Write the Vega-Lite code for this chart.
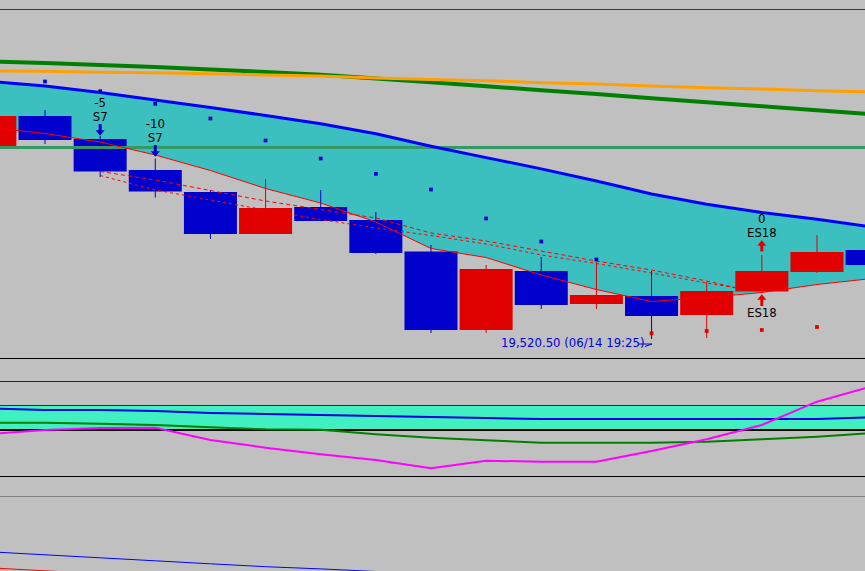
{
  "$schema": "https://vega.github.io/schema/vega-lite/v6.json",
  "background": "#c0c0c0",
  "padding": 0,
  "spacing": 0,
  "config": {"view": {"stroke": null}, "concat": {"spacing": 0}, "scale": {"continuousPadding": 0}},
  "resolve": {"scale": {"x": "independent", "y": "independent", "color": "independent"}},
  "datasets": {
    "candles": [
      {"i": -1, "o": 19617, "c": 19632, "h": 19634, "l": 19615, "dir": "up"},
      {"i": 0, "o": 19632, "c": 19620, "h": 19635, "l": 19618, "dir": "down"},
      {"i": 1, "o": 19620.5, "c": 19604.25, "h": 19622, "l": 19601.5, "dir": "down"},
      {"i": 2, "o": 19605, "c": 19594.25, "h": 19610.75, "l": 19591.25, "dir": "down"},
      {"i": 3, "o": 19594, "c": 19573, "h": 19595, "l": 19570.5, "dir": "down"},
      {"i": 4, "o": 19573, "c": 19586, "h": 19600.5, "l": 19573, "dir": "up"},
      {"i": 5, "o": 19586.5, "c": 19579.5, "h": 19595, "l": 19579.5, "dir": "down"},
      {"i": 6, "o": 19580, "c": 19563.5, "h": 19584, "l": 19563, "dir": "down"},
      {"i": 7, "o": 19564.25, "c": 19525, "h": 19567.5, "l": 19523.5, "dir": "down"},
      {"i": 8, "o": 19525, "c": 19555.5, "h": 19557.5, "l": 19523.5, "dir": "up"},
      {"i": 9, "o": 19554.5, "c": 19537.5, "h": 19561.5, "l": 19535.5, "dir": "down"},
      {"i": 10, "o": 19538, "c": 19542.5, "h": 19559, "l": 19535.5, "dir": "up"},
      {"i": 11, "o": 19542, "c": 19532, "h": 19554.5, "l": 19520.5, "dir": "down"},
      {"i": 12, "o": 19532.5, "c": 19544.5, "h": 19549, "l": 19521, "dir": "up"},
      {"i": 13, "o": 19544.25, "c": 19554.5, "h": 19562.5, "l": 19544.25, "dir": "up"},
      {"i": 14, "o": 19554, "c": 19564, "h": 19572.5, "l": 19553.5, "dir": "up"},
      {"i": 15, "o": 19565, "c": 19557.5, "h": 19567.5, "l": 19556.5, "dir": "down"}
    ],
    "lines": [
      {"i": -1, "green": 19659.2, "orange": 19654.5, "upper": 19649.25, "lower": 19626.25},
      {"i": 0, "green": 19658.5, "orange": 19654.35, "upper": 19647, "lower": 19623.25},
      {"i": 1, "green": 19657.5, "orange": 19653.9, "upper": 19643.75, "lower": 19619},
      {"i": 2, "green": 19656.5, "orange": 19653.6, "upper": 19640, "lower": 19612.5},
      {"i": 3, "green": 19655.25, "orange": 19653.1, "upper": 19636.25, "lower": 19604.75},
      {"i": 4, "green": 19654, "orange": 19652.5, "upper": 19632.25, "lower": 19595.75},
      {"i": 5, "green": 19652.6, "orange": 19652, "upper": 19628.15, "lower": 19588.5},
      {"i": 6, "green": 19650.75, "orange": 19651, "upper": 19623.1, "lower": 19579},
      {"i": 7, "green": 19648.9, "orange": 19650.25, "upper": 19616.85, "lower": 19565.75},
      {"i": 8, "green": 19646.85, "orange": 19649.6, "upper": 19611.2, "lower": 19561.25},
      {"i": 9, "green": 19644.9, "orange": 19648.65, "upper": 19605.55, "lower": 19552.5},
      {"i": 10, "green": 19643, "orange": 19648, "upper": 19599.5, "lower": 19545.25},
      {"i": 11, "green": 19640.9, "orange": 19647, "upper": 19593, "lower": 19539.25},
      {"i": 12, "green": 19638.9, "orange": 19646.1, "upper": 19587.85, "lower": 19541.25},
      {"i": 13, "green": 19636.9, "orange": 19645.5, "upper": 19583.75, "lower": 19543.75},
      {"i": 14, "green": 19634.9, "orange": 19644.65, "upper": 19580.4, "lower": 19547.75},
      {"i": 15, "green": 19632.9, "orange": 19644, "upper": 19576.5, "lower": 19550.75}
    ],
    "dashed": [
      {"i": 1, "d1": 19604.25, "d2": 19602.25},
      {"i": 2, "d1": 19600, "d2": 19595},
      {"i": 3, "d1": 19594.75, "d2": 19590},
      {"i": 4, "d1": 19589.5, "d2": 19585},
      {"i": 5, "d1": 19585.25, "d2": 19580.25},
      {"i": 6, "d1": 19581, "d2": 19576},
      {"i": 7, "d1": 19573.5, "d2": 19572.25},
      {"i": 8, "d1": 19569.5, "d2": 19568},
      {"i": 9, "d1": 19564.5, "d2": 19562.5},
      {"i": 10, "d1": 19559.5, "d2": 19558.25},
      {"i": 11, "d1": 19555, "d2": 19553.5},
      {"i": 12, "d1": 19549.5, "d2": 19548.5},
      {"i": 12.55, "d1": 19546, "d2": 19546}
    ],
    "sar": [
      {"i": 0, "p": 19649.25, "side": "down"},
      {"i": 1, "p": 19644.4, "side": "down"},
      {"i": 2, "p": 19638.1, "side": "down"},
      {"i": 3, "p": 19630.75, "side": "down"},
      {"i": 4, "p": 19619.75, "side": "down"},
      {"i": 5, "p": 19610.75, "side": "down"},
      {"i": 6, "p": 19603.1, "side": "down"},
      {"i": 7, "p": 19595.25, "side": "down"},
      {"i": 8, "p": 19580.75, "side": "down"},
      {"i": 9, "p": 19569.25, "side": "down"},
      {"i": 10, "p": 19560.25, "side": "down"},
      {"i": 11, "p": 19523.35, "side": "up"},
      {"i": 12, "p": 19524.5, "side": "up"},
      {"i": 13, "p": 19525, "side": "up"},
      {"i": 14, "p": 19526.5, "side": "up"}
    ],
    "notes": [
      {"i": 1, "p": 19638.5, "t": "-5"},
      {"i": 1, "p": 19631.5, "t": "S7"},
      {"i": 2, "p": 19628, "t": "-10"},
      {"i": 2, "p": 19621, "t": "S7"},
      {"i": 13, "p": 19580.75, "t": "0"},
      {"i": 13, "p": 19573.75, "t": "ES18"},
      {"i": 13, "p": 19533.6, "t": "ES18"}
    ],
    "arrows": [
      {"i": 1, "s1": 19628, "s2": 19624.5, "hp": 19623.5, "dir": "down"},
      {"i": 2, "s1": 19617.5, "s2": 19614, "hp": 19613, "dir": "down"},
      {"i": 13, "s1": 19567.5, "s2": 19564.25, "hp": 19568.5, "dir": "up"},
      {"i": 13, "s1": 19540.5, "s2": 19537, "hp": 19541.5, "dir": "up"}
    ],
    "low": [
      {"i": 8.27, "p": 19518.5, "t": "19,520.50 (06/14 19:25)", "x1": 10.754, "x2": 11.008, "y1": 19518, "xa": 10.88, "ya": 19516.75}
    ],
    "levels": [
      {"v": 19685.25, "kind": "frame"},
      {"v": 19616.25, "kind": "ma"}
    ],
    "ind": [
      {"i": -1, "blue": 21.6, "green": 7.3, "mag": -4},
      {"i": 0, "blue": 20, "green": 7.3, "mag": 0},
      {"i": 1, "blue": 20, "green": 6.3, "mag": 2},
      {"i": 2, "blue": 19, "green": 5, "mag": 2.3},
      {"i": 3, "blue": 17, "green": 2.7, "mag": -10},
      {"i": 4, "blue": 16, "green": 0.7, "mag": -17.7},
      {"i": 5, "blue": 15, "green": 0.3, "mag": -24.3},
      {"i": 6, "blue": 14, "green": -4.3, "mag": -30},
      {"i": 7, "blue": 13, "green": -7.7, "mag": -38.3},
      {"i": 8, "blue": 12, "green": -10.3, "mag": -30.7},
      {"i": 9, "blue": 11, "green": -12.7, "mag": -31.7},
      {"i": 10, "blue": 11, "green": -12.7, "mag": -31.7},
      {"i": 11, "blue": 11, "green": -12.7, "mag": -21},
      {"i": 12, "blue": 11, "green": -11.7, "mag": -9.3},
      {"i": 13, "blue": 11, "green": -9.3, "mag": 5},
      {"i": 14, "blue": 11, "green": -6.7, "mag": 28.3},
      {"i": 15, "blue": 12.8, "green": -3, "mag": 43.7}
    ],
    "bot": [
      {"i": -1, "blue": 19.2, "red": 3.2},
      {"i": 0, "blue": 16.2, "red": 0.2},
      {"i": 1, "blue": 13.2, "red": -2.8},
      {"i": 2, "blue": 10.2},
      {"i": 3, "blue": 7.2},
      {"i": 4, "blue": 4.3},
      {"i": 5, "blue": 2.1},
      {"i": 6, "blue": -0.5},
      {"i": 7, "blue": -3}
    ]
  },
  "vconcat": [
    {
      "width": 865,
      "height": 358,
      "layer": [
        {
          "data": {"name": "lines"},
          "mark": {"type": "area", "color": "#3cbfbf", "opacity": 1, "clip": true},
          "encoding": {
            "x": {"field": "i", "type": "quantitative", "scale": {"domain": [-0.8161, 14.871], "nice": false, "zero": false, "padding": 0}, "axis": null},
            "y": {"field": "upper", "type": "quantitative", "scale": {"domain": [19511, 19690], "nice": false, "zero": false}, "axis": null},
            "y2": {"field": "lower"}
          }
        },
        {
          "data": {"name": "candles"},
          "mark": {"type": "rule", "strokeWidth": 1, "clip": true},
          "encoding": {
            "x": {"field": "i", "type": "quantitative"},
            "y": {"field": "l", "type": "quantitative"},
            "y2": {"field": "h"},
            "color": {"field": "dir", "type": "nominal", "scale": {"domain": ["up", "down"], "range": ["#e00000", "#0000cc"]}, "legend": null}
          }
        },
        {
          "data": {"name": "candles"},
          "mark": {"type": "bar", "size": 53, "orient": "vertical", "clip": true},
          "encoding": {
            "x": {"field": "i", "type": "quantitative"},
            "y": {"field": "o", "type": "quantitative"},
            "y2": {"field": "c"},
            "color": {"field": "dir", "type": "nominal", "legend": null}
          }
        },
        {
          "data": {"name": "levels"},
          "transform": [{"filter": "datum.kind == 'ma'"}],
          "mark": {"type": "rule", "color": "#339966", "strokeWidth": 3, "clip": true},
          "encoding": {"y": {"field": "v", "type": "quantitative"}}
        },
        {
          "data": {"name": "levels"},
          "transform": [{"filter": "datum.kind == 'frame'"}],
          "mark": {"type": "rule", "color": "#3a3a3a", "strokeWidth": 1, "clip": true},
          "encoding": {"y": {"field": "v", "type": "quantitative"}}
        },
        {
          "data": {"name": "lines"},
          "mark": {"type": "line", "color": "#008000", "strokeWidth": 4, "clip": true},
          "encoding": {"x": {"field": "i", "type": "quantitative"}, "y": {"field": "green", "type": "quantitative"}}
        },
        {
          "data": {"name": "lines"},
          "mark": {"type": "line", "color": "#ffa000", "strokeWidth": 3, "clip": true},
          "encoding": {"x": {"field": "i", "type": "quantitative"}, "y": {"field": "orange", "type": "quantitative"}}
        },
        {
          "data": {"name": "lines"},
          "mark": {"type": "line", "color": "#0000ff", "strokeWidth": 3, "clip": true},
          "encoding": {"x": {"field": "i", "type": "quantitative"}, "y": {"field": "upper", "type": "quantitative"}}
        },
        {
          "data": {"name": "lines"},
          "mark": {"type": "line", "color": "#ff0000", "strokeWidth": 1, "clip": true},
          "encoding": {"x": {"field": "i", "type": "quantitative"}, "y": {"field": "lower", "type": "quantitative"}}
        },
        {
          "data": {"name": "dashed"},
          "mark": {"type": "line", "color": "#ff0000", "strokeWidth": 1, "strokeDash": [4, 3], "clip": true},
          "encoding": {"x": {"field": "i", "type": "quantitative"}, "y": {"field": "d1", "type": "quantitative"}}
        },
        {
          "data": {"name": "dashed"},
          "mark": {"type": "line", "color": "#ff0000", "strokeWidth": 1, "strokeDash": [3, 3], "clip": true},
          "encoding": {"x": {"field": "i", "type": "quantitative"}, "y": {"field": "d2", "type": "quantitative"}}
        },
        {
          "data": {"name": "sar"},
          "mark": {"type": "point", "shape": "square", "filled": true, "size": 14, "opacity": 1},
          "encoding": {
            "x": {"field": "i", "type": "quantitative"},
            "y": {"field": "p", "type": "quantitative"},
            "color": {"field": "side", "type": "nominal", "legend": null}
          }
        },
        {
          "data": {"name": "notes"},
          "mark": {"type": "text", "font": "DejaVu Sans Condensed, Liberation Sans, sans-serif", "fontSize": 13, "color": "#000000", "align": "center", "baseline": "middle"},
          "encoding": {
            "x": {"field": "i", "type": "quantitative"},
            "y": {"field": "p", "type": "quantitative"},
            "text": {"field": "t"}
          }
        },
        {
          "data": {"name": "arrows"},
          "mark": {"type": "rule", "strokeWidth": 3},
          "encoding": {
            "x": {"field": "i", "type": "quantitative"},
            "y": {"field": "s1", "type": "quantitative"},
            "y2": {"field": "s2"},
            "color": {"field": "dir", "type": "nominal", "legend": null}
          }
        },
        {
          "data": {"name": "arrows"},
          "mark": {"type": "point", "filled": true, "size": 81, "opacity": 1},
          "encoding": {
            "x": {"field": "i", "type": "quantitative"},
            "y": {"field": "hp", "type": "quantitative"},
            "color": {"field": "dir", "type": "nominal", "legend": null},
            "shape": {"field": "dir", "type": "nominal", "scale": {"domain": ["up", "down"], "range": ["M-1,0.6L1,0.6L0,-0.6Z", "M-1,-0.6L1,-0.6L0,0.6Z"]}, "legend": null}
          }
        },
        {
          "data": {"name": "low"},
          "mark": {"type": "text", "font": "DejaVu Sans Condensed, Liberation Sans, sans-serif", "fontSize": 13, "color": "#0000e0", "align": "left", "baseline": "middle"},
          "encoding": {
            "x": {"field": "i", "type": "quantitative"},
            "y": {"field": "p", "type": "quantitative"},
            "text": {"field": "t"}
          }
        },
        {
          "data": {"name": "low"},
          "mark": {"type": "rule", "color": "#0000e0", "strokeWidth": 1},
          "encoding": {
            "x": {"field": "x1", "type": "quantitative"},
            "x2": {"field": "x2"},
            "y": {"field": "y1", "type": "quantitative"}
          }
        },
        {
          "data": {"name": "low"},
          "mark": {"type": "rule", "color": "#0000e0", "strokeWidth": 1},
          "encoding": {
            "x": {"field": "xa", "type": "quantitative"},
            "x2": {"field": "x2"},
            "y": {"field": "ya", "type": "quantitative"},
            "y2": {"field": "y1"}
          }
        }
      ]
    },
    {
      "width": 865,
      "height": 118,
      "layer": [
        {
          "data": {"values": [{"lo": 0, "hi": 24}]},
          "mark": {"type": "rect", "color": "#40f0c0", "clip": true},
          "encoding": {
            "y": {"field": "hi", "type": "quantitative", "scale": {"domain": [-46, 72], "nice": false, "zero": false}, "axis": null},
            "y2": {"field": "lo"}
          }
        },
        {
          "data": {"values": [{"v": 71.5}]},
          "mark": {"type": "rule", "color": "#000000", "strokeWidth": 1, "clip": true},
          "encoding": {"y": {"field": "v", "type": "quantitative"}}
        },
        {
          "data": {"values": [{"v": 48.5}]},
          "mark": {"type": "rule", "color": "#800000", "strokeWidth": 1, "clip": true},
          "encoding": {"y": {"field": "v", "type": "quantitative"}}
        },
        {
          "data": {"values": [{"v": 24.5}]},
          "mark": {"type": "rule", "color": "#a00000", "strokeWidth": 1, "clip": true},
          "encoding": {"y": {"field": "v", "type": "quantitative"}}
        },
        {
          "data": {"values": [{"v": 0}]},
          "mark": {"type": "rule", "color": "#000000", "strokeWidth": 2, "clip": true},
          "encoding": {"y": {"field": "v", "type": "quantitative"}}
        },
        {
          "data": {"name": "ind"},
          "mark": {"type": "line", "color": "#0000e0", "strokeWidth": 2, "clip": true},
          "encoding": {
            "x": {"field": "i", "type": "quantitative", "scale": {"domain": [-0.8161, 14.871], "nice": false, "zero": false, "padding": 0}, "axis": null},
            "y": {"field": "blue", "type": "quantitative"}
          }
        },
        {
          "data": {"name": "ind"},
          "mark": {"type": "line", "color": "#008000", "strokeWidth": 2, "clip": true},
          "encoding": {"x": {"field": "i", "type": "quantitative"}, "y": {"field": "green", "type": "quantitative"}}
        },
        {
          "data": {"name": "ind"},
          "mark": {"type": "line", "color": "#ff00ff", "strokeWidth": 2, "clip": true},
          "encoding": {"x": {"field": "i", "type": "quantitative"}, "y": {"field": "mag", "type": "quantitative"}}
        }
      ]
    },
    {
      "width": 865,
      "height": 95,
      "layer": [
        {
          "data": {"values": [{"v": 94.5}]},
          "mark": {"type": "rule", "color": "#000000", "strokeWidth": 1, "clip": true},
          "encoding": {"y": {"field": "v", "type": "quantitative", "scale": {"domain": [0, 95], "nice": false, "zero": false}, "axis": null}}
        },
        {
          "data": {"values": [{"v": 74.5}]},
          "mark": {"type": "rule", "color": "#808080", "strokeWidth": 1, "clip": true},
          "encoding": {"y": {"field": "v", "type": "quantitative"}}
        },
        {
          "data": {"name": "bot"},
          "mark": {"type": "line", "color": "#0000ff", "strokeWidth": 1, "clip": true},
          "encoding": {
            "x": {"field": "i", "type": "quantitative", "scale": {"domain": [-0.8161, 14.871], "nice": false, "zero": false, "padding": 0}, "axis": null},
            "y": {"field": "blue", "type": "quantitative"}
          }
        },
        {
          "data": {"name": "bot"},
          "transform": [{"filter": "isValid(datum.red)"}],
          "mark": {"type": "line", "color": "#ff0000", "strokeWidth": 1, "clip": true},
          "encoding": {"x": {"field": "i", "type": "quantitative"}, "y": {"field": "red", "type": "quantitative"}}
        }
      ]
    }
  ]
}
